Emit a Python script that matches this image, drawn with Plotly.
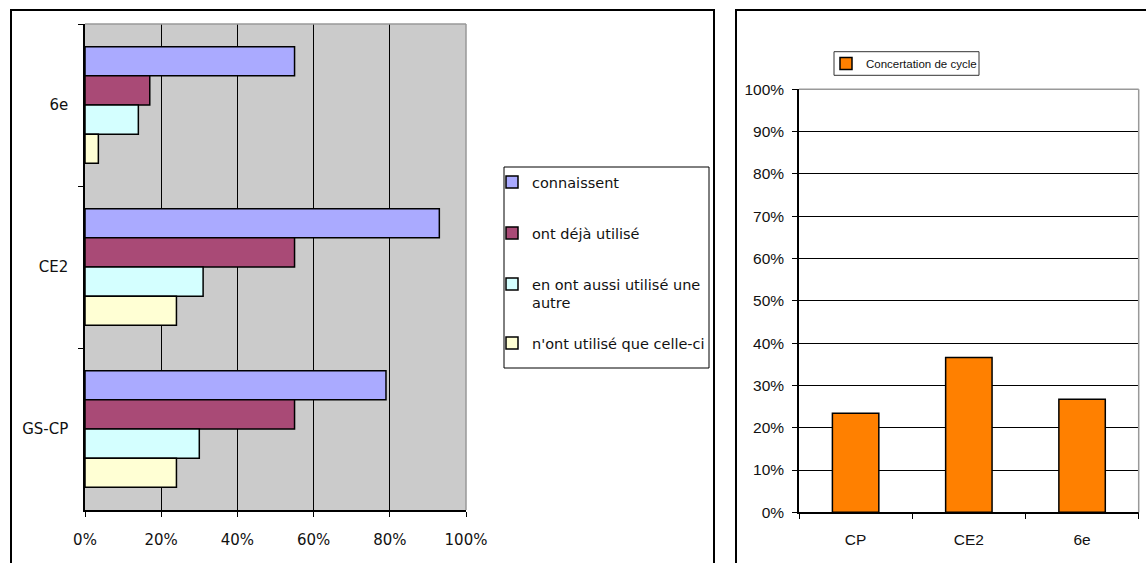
import plotly.graph_objects as go

W, H = 1146, 563

# ---- data ----
levels = ["6e", "CE2", "GS-CP"]
series_names = ["connaissent", "ont déjà utilisé", "en ont aussi utilisé une<br>autre", "n'ont utilisé que celle-ci"]
connaissent = [0.55, 0.93, 0.79]
deja_utilise = [0.17, 0.55, 0.55]
aussi_autre = [0.14, 0.31, 0.30]
que_celle_ci = [0.035, 0.24, 0.24]
series_colors = ["#AAAAFF", "#A94A76", "#D4FFFF", "#FFFFD4"]

cycle_levels = ["CP", "CE2", "6e"]
concertation = [0.234, 0.366, 0.267]
cycle_name = "Concertation de cycle"

pct_ticks = [0, 0.2, 0.4, 0.6, 0.8, 1.0]

def px_x(v):
    return v / W

def px_y(v):
    return 1 - v / H

fig = go.Figure()

series_values = [connaissent, deja_utilise, aussi_autre, que_celle_ci]
legend_ids = ["legend", "legend2", "legend3", "legend4"]
for name, vals, col, lg in zip(series_names, series_values, series_colors, legend_ids):
    fig.add_trace(go.Bar(
        y=levels, x=vals, orientation="h", name=name,
        marker=dict(color=col, line=dict(color="black", width=1.5)),
        xaxis="x", yaxis="y", legend=lg,
    ))

fig.add_trace(go.Bar(
    x=cycle_levels, y=concertation, name=cycle_name, width=0.41,
    marker=dict(color="#FF8000", line=dict(color="black", width=1.5)),
    xaxis="x2", yaxis="y2", legend="legend5",
))

left_font = dict(family="DejaVu Sans", size=15, color="#111")
right_font = dict(family="Liberation Sans", size=15.5, color="#111")

leg_common = dict(bgcolor="rgba(0,0,0,0)", borderwidth=0, xanchor="left", yanchor="top",
                  font=dict(family="DejaVu Sans", size=14.5, color="#111"), valign="top")
leg_x = px_x(492)
legend_tops = [182, 233, 284, 343]

layout = dict(
    width=W, height=H, margin=dict(l=0, r=0, t=0, b=0, pad=0, autoexpand=False),
    paper_bgcolor="white", plot_bgcolor="white",
    barmode="group", bargap=0.28, bargroupgap=0,
    xaxis=dict(domain=[px_x(85), px_x(466)], range=[0, 1], tickvals=pct_ticks, tickformat=".0%",
               showgrid=True, gridcolor="black", gridwidth=1, zeroline=False,
               showline=True, linecolor="black", linewidth=1.5,
               ticks="outside", ticklen=5, tickcolor="black", tickwidth=1,
               tickfont=left_font, anchor="y", ticklabelstandoff=10, fixedrange=True,
               automargin=False),
    yaxis=dict(domain=[px_y(510), px_y(24)], type="category", categoryorder="array",
               categoryarray=levels, autorange="reversed", tickson="boundaries",
               showgrid=False, zeroline=False, showline=True, linecolor="black", linewidth=1.5,
               ticks="outside", ticklen=5, tickcolor="black", tickwidth=1,
               tickfont=left_font, anchor="x", ticklabelstandoff=12, fixedrange=True,
               automargin=False),
    xaxis2=dict(domain=[px_x(799), px_x(1138.7)], type="category", categoryorder="array",
                categoryarray=cycle_levels, tickson="boundaries",
                showgrid=False, zeroline=False, showline=True, linecolor="black", linewidth=1.5,
                ticks="outside", ticklen=5, tickcolor="black", tickwidth=1,
                tickfont=right_font, anchor="y2", ticklabelstandoff=12, fixedrange=True,
                automargin=False),
    yaxis2=dict(domain=[px_y(512.3), px_y(89.3)], range=[0, 1], dtick=0.1, tickformat=".0%",
                showgrid=True, gridcolor="black", gridwidth=1, zeroline=False,
                showline=True, linecolor="black", linewidth=1.5,
                ticks="outside", ticklen=5, tickcolor="black", tickwidth=1,
                tickfont=right_font, anchor="x2", ticklabelstandoff=5, fixedrange=True,
                automargin=False),
    showlegend=True,
)
for lg, top in zip(legend_ids, legend_tops):
    layout[lg] = dict(leg_common, x=leg_x, y=px_y(top - 16))
layout["legend5"] = dict(bgcolor="rgba(0,0,0,0)", borderwidth=0,
                         xanchor="left", yanchor="top", x=px_x(826), y=px_y(49),
                         font=dict(family="Liberation Sans", size=11.5, color="#111"))

shapes = [
    # gray plot background of left chart
    dict(type="rect", xref="x domain", yref="y domain", x0=0, x1=1, y0=0, y1=1,
         fillcolor="#CBCBCB", line=dict(width=0), layer="below"),
    # gray top/right plot borders
    dict(type="line", xref="x domain", yref="y domain", x0=0, x1=1, y0=1, y1=1,
         line=dict(color="#999999", width=1.5), layer="above"),
    dict(type="line", xref="x domain", yref="y domain", x0=1, x1=1, y0=0, y1=1,
         line=dict(color="#999999", width=1.5), layer="above"),
    dict(type="line", xref="x2 domain", yref="y2 domain", x0=0, x1=1, y0=1, y1=1,
         line=dict(color="#999999", width=1.5), layer="above"),
    dict(type="line", xref="x2 domain", yref="y2 domain", x0=1, x1=1, y0=0, y1=1,
         line=dict(color="#999999", width=1.5), layer="above"),
    # chart frames
    dict(type="rect", xref="paper", yref="paper", x0=px_x(11), x1=px_x(714), y0=-0.05, y1=px_y(10),
         line=dict(color="black", width=2), fillcolor="rgba(0,0,0,0)", layer="below"),
    dict(type="rect", xref="paper", yref="paper", x0=px_x(736), x1=1.05, y0=-0.05, y1=px_y(10),
         line=dict(color="black", width=2), fillcolor="rgba(0,0,0,0)", layer="below"),
    # legend boxes
    dict(type="rect", xref="paper", yref="paper", x0=px_x(504), x1=px_x(709), y0=px_y(368), y1=px_y(167),
         line=dict(color="black", width=1), fillcolor="white", layer="below"),
    dict(type="rect", xref="paper", yref="paper", x0=px_x(834), x1=px_x(979), y0=px_y(75.3), y1=px_y(51.7),
         line=dict(color="#333", width=1), fillcolor="white", layer="below"),
]
layout["shapes"] = shapes

fig.update_layout(**layout)
fig.write_html("out.html")
